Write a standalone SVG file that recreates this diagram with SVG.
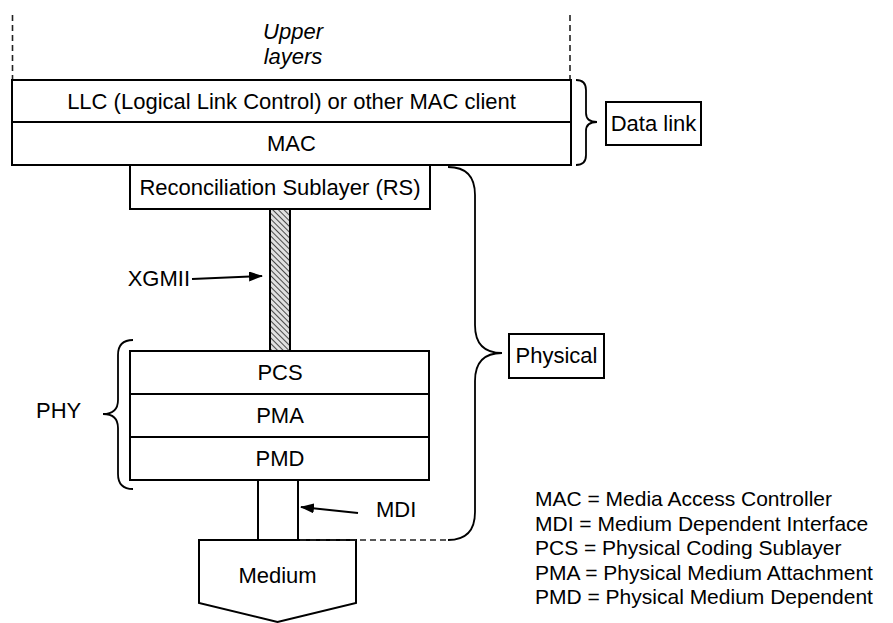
<svg xmlns="http://www.w3.org/2000/svg" width="893" height="623" viewBox="0 0 893 623">
  <defs>
    <pattern id="hatch" width="4" height="4" patternUnits="userSpaceOnUse" patternTransform="rotate(-45)">
      <rect width="4" height="4" fill="#e0e0e0"/>
      <line x1="0" y1="0" x2="0" y2="4" stroke="#222" stroke-width="1.6"/>
    </pattern>
    <marker id="arrow" viewBox="0 0 14 10" refX="13" refY="5" markerWidth="14" markerHeight="10" markerUnits="userSpaceOnUse" orient="auto">
      <path d="M0,0 L14,5 L0,10 Z" fill="#000"/>
    </marker>
  </defs>
  <style>
    text { font-family: "Liberation Sans", Arial, sans-serif; font-size: 22px; fill: #000; }
    .c { text-anchor: middle; }
    .legend text { font-size: 21px; }
    .box { fill: #fff; stroke: #000; stroke-width: 2; }
    .brace { fill: none; stroke: #000; stroke-width: 1.8; }
    .dash { fill: none; stroke: #222; stroke-width: 1.6; stroke-dasharray: 6 4; }
    .wire { fill: none; stroke: #000; stroke-width: 2; }
  </style>

  <rect width="893" height="623" fill="#fff"/>

  <!-- upper layers -->
  <g id="upper-layers">
    <line class="dash" x1="12.5" y1="15" x2="12.5" y2="80"/>
    <line class="dash" x1="570" y1="15" x2="570" y2="80"/>
    <text class="c" x="293" y="39" font-style="italic">Upper</text>
    <text class="c" x="293" y="64" font-style="italic">layers</text>
  </g>

  <!-- data link layer stack -->
  <g id="llc">
    <rect class="box" x="12" y="80" width="559" height="42"/>
    <text class="c" x="291.5" y="109">LLC (Logical Link Control) or other MAC client</text>
  </g>
  <g id="mac">
    <rect class="box" x="12" y="122" width="559" height="43"/>
    <text class="c" x="291.5" y="151">MAC</text>
  </g>

  <g id="data-link">
    <path class="brace" d="M576,80 Q586,80 586,90 L586,113 Q586,122 597,122 Q586,122 586,131 L586,155 Q586,165 576,165"/>
    <rect class="box" x="606" y="102" width="95" height="43"/>
    <text class="c" x="653.5" y="131">Data link</text>
  </g>

  <!-- physical layer -->
  <g id="rs">
    <rect class="box" x="130" y="165" width="300" height="44"/>
    <text class="c" x="280" y="195">Reconciliation Sublayer (RS)</text>
  </g>

  <g id="xgmii">
    <rect x="270" y="209" width="20" height="142" fill="url(#hatch)" stroke="#000" stroke-width="2"/>
    <text x="190" y="286" text-anchor="end">XGMII</text>
  </g>

  <g id="pcs">
    <rect class="box" x="130" y="351" width="299" height="43"/>
    <text class="c" x="280" y="380">PCS</text>
  </g>
  <g id="pma">
    <rect class="box" x="130" y="394" width="299" height="43"/>
    <text class="c" x="280" y="423">PMA</text>
  </g>
  <g id="pmd">
    <rect class="box" x="130" y="437" width="299" height="43"/>
    <text class="c" x="280" y="466">PMD</text>
  </g>

  <g id="phy">
    <path class="brace" d="M133,340 Q118,340 118,355 L118,400 Q118,414 103,414 Q118,414 118,428 L118,474 Q118,489 133,489"/>
    <text x="36" y="418">PHY</text>
  </g>

  <g id="mdi">
    <rect class="box" x="258" y="480" width="40" height="60"/>
    <text x="376" y="517">MDI</text>
  </g>

  <g id="medium">
    <path class="box" d="M199,540 L356,540 L356,603 L277.5,622 L199,603 Z"/>
    <text class="c" x="277.5" y="583">Medium</text>
  </g>

  <g id="physical">
    <path class="brace" d="M448,167 Q475,167 475,195 L475,325 Q475,353 502,353 Q475,353 475,381 L475,512 Q475,540 448,540"/>
    <rect class="box" x="509" y="334" width="95" height="44"/>
    <text class="c" x="556.5" y="363">Physical</text>
  </g>

  <!-- connectors -->
  <g id="connectors">
    <line class="wire" x1="192" y1="279" x2="262" y2="276" marker-end="url(#arrow)"/>
    <line class="wire" x1="358" y1="513" x2="301" y2="507" marker-end="url(#arrow)"/>
    <line class="dash" x1="300" y1="540" x2="448" y2="540"/>
  </g>

  <!-- abbreviations -->
  <g id="legend" class="legend">
    <text x="535" y="506">MAC = Media Access Controller</text>
    <text x="535" y="530.5">MDI = Medium Dependent Interface</text>
    <text x="535" y="555">PCS = Physical Coding Sublayer</text>
    <text x="535" y="579.5">PMA = Physical Medium Attachment</text>
    <text x="535" y="604">PMD = Physical Medium Dependent</text>
  </g>
</svg>
